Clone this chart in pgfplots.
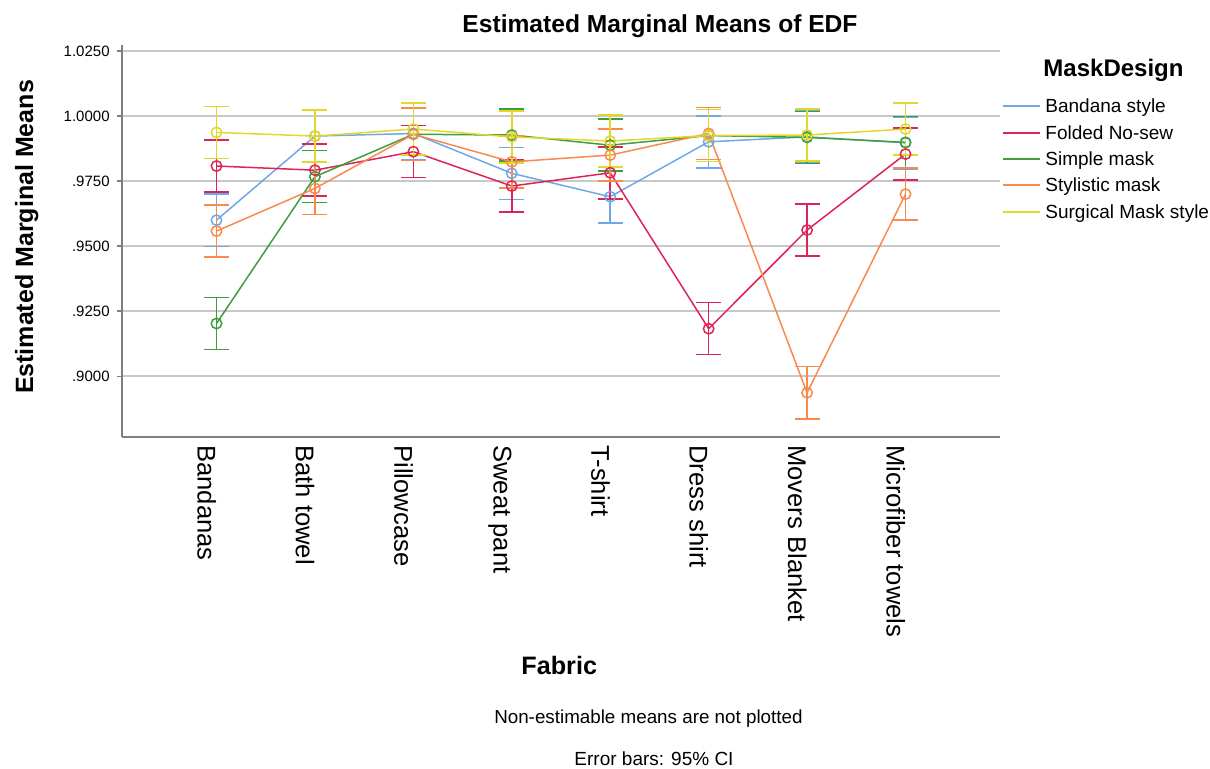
\documentclass[border=0pt]{standalone}
\usepackage{fontspec}
\setmainfont{Liberation Sans}
\usepackage{pgfplots}
\usepackage{pgfplotstable}
\pgfplotsset{compat=1.18}
\definecolor{cBlue}{HTML}{6FA8E8}
\definecolor{cRed}{HTML}{DC2456}
\definecolor{cGreen}{HTML}{3E9E3E}
\definecolor{cOrange}{HTML}{F98A4F}
\definecolor{cYellow}{HTML}{E3D82A}
\definecolor{axgray}{HTML}{7F7F7F}
\definecolor{gridgray}{HTML}{C8C8C8}

% columns: x, Bandana style, Folded No-sew, Simple mask, Stylistic mask, Surgical Mask style (+ CI half-widths)
\pgfplotstableread{
x  b      be     f      fe     s      se     st     ste    su     sue
0  0.9600 0.0101 0.9808 0.0100 0.9203 0.0100 0.9558 0.0100 0.9937 0.0100
1  0.9923 0.0101 0.9792 0.0100 0.9767 0.0100 0.9722 0.0100 0.9923 0.0100
2  0.9933 0.0100 0.9863 0.0100 0.9930 0.0100 0.9930 0.0100 0.9950 0.0100
3  0.9780 0.0100 0.9731 0.0100 0.9927 0.0100 0.9824 0.0100 0.9920 0.0100
4  0.9690 0.0100 0.9782 0.0100 0.9888 0.0100 0.9850 0.0100 0.9904 0.0100
5  0.9901 0.0100 0.9183 0.0100 0.9925 0.0100 0.9933 0.0100 0.9925 0.0100
6  0.9920 0.0100 0.9562 0.0100 0.9918 0.0100 0.8937 0.0100 0.9927 0.0100
7  0.9897 0.0100 0.9854 0.0100 0.9899 0.0100 0.9700 0.0100 0.9950 0.0100
}\data

\pgfplotsset{
  emm/.style={
    color=#1, line width=0.75pt, mark=o, mark size=2.6pt,
    mark options={solid, line width=0.75pt},
    error bars/.cd, y dir=both, y explicit,
    error bar style={line width=0.75pt, #1},
    error mark options={rotate=90, mark size=6.25pt, line width=0.75pt, #1}
  }
}

\begin{document}
\begin{tikzpicture}[x=1pt,y=1pt]
\useasboundingbox (0,0) rectangle (605,384.5);
\begin{axis}[
  at={(61pt,166pt)}, anchor=south west,
  scale only axis, width=439pt, height=196pt,
  xmin=-0.96, xmax=7.96, ymin=0.8767, ymax=1.0273,
  axis x line*=bottom, axis y line*=left,
  axis line style={axgray, line width=1pt},
  tick align=outside, major tick length=2.5pt,
  ytick={0.9,0.925,0.95,0.975,1.0,1.025},
  yticklabels={.9000,.9250,.9500,.9750,1.0000,1.0250},
  ytick style={axgray, line width=0.8pt},
  yticklabel style={font=\fontsize{7.5}{9}\selectfont, inner xsep=0pt, xshift=-3.5pt},
  xtick={0,1,2,3,4,5,6,7},
  xticklabels={Bandanas,Bath towel,Pillowcase,Sweat pant,T-shirt,Dress shirt,Movers Blanket,Microfiber towels},
  xtick style={draw=none},
  xticklabel style={font=\fontsize{12.8}{14}\selectfont, rotate=-90, anchor=north west, inner ysep=0pt, inner xsep=1.5pt},
  ymajorgrids, grid style={gridgray, line width=1pt},
  clip=false,
]
\addplot+[emm=cBlue]   table[x=x, y=b,  y error=be]  {\data};
\addplot+[emm=cRed]    table[x=x, y=f,  y error=fe]  {\data};
\addplot+[emm=cGreen]  table[x=x, y=s,  y error=se]  {\data};
\addplot+[emm=cOrange] table[x=x, y=st, y error=ste] {\data};
\addplot+[emm=cYellow] table[x=x, y=su, y error=sue] {\data};
\end{axis}

% titles
\node[anchor=base, font=\bfseries\fontsize{12.3}{14}\selectfont] at (330,368.4) {Estimated Marginal Means of EDF};
\node[anchor=base, rotate=90, font=\bfseries\fontsize{12.5}{14}\selectfont] at (16.5,266) {Estimated Marginal Means};
\node[anchor=base, font=\bfseries\fontsize{12.6}{14}\selectfont] at (279.6,47.1) {Fabric};
\node[anchor=base, font=\fontsize{9.4}{11}\selectfont] at (324.2,22.8) {Non-estimable means are not plotted};
\node[anchor=base, font=\fontsize{9.5}{11}\selectfont] at (327,1.7) {Error bars: 95\% CI};

% legend
\node[anchor=base, font=\bfseries\fontsize{12}{14}\selectfont] at (556.75,346) {MaskDesign};
\draw[cBlue,   line width=0.75pt] (501.5,331.5) -- (520,331.5);
\draw[cRed,    line width=0.75pt] (501.5,318)   -- (520,318);
\draw[cGreen,  line width=0.75pt] (501.5,305)   -- (520,305);
\draw[cOrange, line width=0.75pt] (501.5,292)   -- (520,292);
\draw[cYellow, line width=0.75pt] (501.5,278.5) -- (520,278.5);
\begin{scope}[every node/.style={anchor=base west, inner sep=0pt, font=\fontsize{9.5}{11}\selectfont}]
\node at (522.5,328.1) {Bandana style};
\node at (522.5,314.6) {Folded No-sew};
\node at (522.5,301.6) {Simple mask};
\node at (522.5,288.6) {Stylistic mask};
\node at (522.5,275.1) {Surgical Mask style};
\end{scope}
\end{tikzpicture}
\end{document}
